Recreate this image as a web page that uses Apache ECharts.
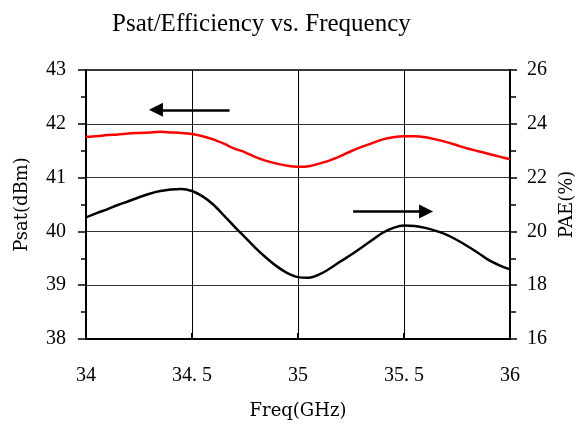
<!DOCTYPE html>
<html>
<head>
<meta charset="utf-8">
<script src="https://cdn.jsdelivr.net/npm/echarts@6/dist/echarts.min.js"></script>
<style>
  html, body { margin: 0; padding: 0; background: #fff; }
  #chart { width: 579px; height: 426px; }
</style>
</head>
<body>
<div id="chart"></div>
<script>
// frequency points (GHz)
const freq = [
  34.00, 34.05, 34.10, 34.15, 34.20, 34.25, 34.30, 34.35, 34.40, 34.45,
  34.50, 34.55, 34.60, 34.65, 34.70, 34.75, 34.80, 34.85, 34.90, 34.95,
  35.00, 35.05, 35.10, 35.15, 35.20, 35.25, 35.30, 35.35, 35.40, 35.45,
  35.50, 35.55, 35.60, 35.65, 35.70, 35.75, 35.80, 35.85, 35.90, 35.95, 36.00
]
// Psat (dBm), left axis
const psat = [
  41.76, 41.77, 41.79, 41.80, 41.82, 41.83, 41.84, 41.85, 41.84, 41.83,
  41.81, 41.77, 41.71, 41.63, 41.54, 41.47, 41.38, 41.31, 41.26, 41.22,
  41.20, 41.21, 41.26, 41.32, 41.40, 41.49, 41.57, 41.64, 41.71, 41.75,
  41.77, 41.77, 41.75, 41.71, 41.66, 41.60, 41.54, 41.49, 41.44, 41.39, 41.34
]
// PAE (%), right axis
const pae = [
  20.52, 20.68, 20.82, 20.98, 21.12, 21.27, 21.40, 21.50, 21.56, 21.58,
  21.50, 21.30, 21.00, 20.60, 20.18, 19.78, 19.38, 19.02, 18.70, 18.45,
  18.30, 18.28, 18.40, 18.62, 18.88, 19.13, 19.40, 19.68, 19.95, 20.13,
  20.22, 20.20, 20.13, 20.02, 19.88, 19.68, 19.45, 19.20, 18.93, 18.74, 18.59
]
// arrow annotations [x0, x1, y(on Psat axis)]
const arrowLeft = [34.677, 34.33, 42.26]
const arrowRight = [35.26, 35.604, 40.37]

const serif = 'Liberation Serif'
const nameFont = 'DejaVu Serif'

const chart = echarts.init(document.getElementById('chart'))
chart.setOption({
  animation: false,
  title: {
    text: 'Psat/Efficiency vs. Frequency',
    left: 107,
    top: 7,
    textStyle: { fontFamily: serif, fontSize: 25, fontWeight: 'normal', color: '#000' }
  },
  grid: {
    left: 86, right: 69, top: 70, bottom: 87,
    outerBoundsMode: 'none',
    containLabel: false,
    show: true, borderColor: '#000', borderWidth: 1.5
  },
  xAxis: {
    type: 'value',
    min: 34, max: 36, interval: 0.5,
    name: 'Freq(GHz)',
    nameLocation: 'middle',
    nameGap: 63,
    nameTextStyle: { fontFamily: nameFont, fontSize: 18, color: '#000' },
    axisLine: { lineStyle: { color: '#000', width: 2 } },
    axisTick: { inside: true, length: 6, lineStyle: { color: '#000', width: 2 } },
    axisLabel: {
      margin: 27,
      fontFamily: serif, fontSize: 20, color: '#000',
      formatter: v => String(v).replace('.', '. ')
    },
    splitLine: { show: true, lineStyle: { color: '#000', width: 1 } }
  },
  yAxis: [
    {
      type: 'value',
      min: 38, max: 43, interval: 1,
      name: 'Psat(dBm)',
      nameLocation: 'middle',
      nameRotate: 90,
      nameGap: 55,
      nameTextStyle: { fontFamily: nameFont, fontSize: 18, color: '#000' },
      axisLine: { show: true, lineStyle: { color: '#000', width: 2 } },
      axisTick: { show: true, length: 8, lineStyle: { color: '#000', width: 1.5 } },
      minorTick: { show: true, splitNumber: 2, length: 5, lineStyle: { color: '#000', width: 1.5 } },
      axisLabel: { margin: 20, fontFamily: serif, fontSize: 20, color: '#000' },
      splitLine: { show: true, lineStyle: { color: '#333', width: 1 } }
    },
    {
      type: 'value',
      min: 16, max: 26, interval: 2,
      name: 'PAE(%)',
      nameLocation: 'middle',
      nameRotate: 90,
      nameGap: 44,
      nameTextStyle: { fontFamily: nameFont, fontSize: 18, color: '#000' },
      axisLine: { show: true, lineStyle: { color: '#000', width: 2 } },
      axisTick: { show: true, length: 7, lineStyle: { color: '#000', width: 1.5 } },
      minorTick: { show: true, splitNumber: 2, length: 6, lineStyle: { color: '#000', width: 1.5 } },
      axisLabel: { margin: 17, fontFamily: serif, fontSize: 20, color: '#000' },
      splitLine: { show: false }
    }
  ],
  series: [
    {
      name: 'Psat',
      type: 'line',
      yAxisIndex: 0,
      data: freq.map((f, i) => [f, psat[i]]),
      smooth: 0.3,
      showSymbol: false,
      lineStyle: { color: '#ff0000', width: 2.5 },
      markLine: {
        silent: true,
        symbol: ['none', 'triangle'],
        symbolSize: 14,
        label: { show: false },
        lineStyle: { color: '#000', width: 2.5, type: 'solid' },
        data: [
          [{ coord: [arrowLeft[0], arrowLeft[2]] }, { coord: [arrowLeft[1], arrowLeft[2]] }],
          [{ coord: [arrowRight[0], arrowRight[2]] }, { coord: [arrowRight[1], arrowRight[2]] }]
        ]
      }
    },
    {
      name: 'PAE',
      type: 'line',
      yAxisIndex: 1,
      data: freq.map((f, i) => [f, pae[i]]),
      smooth: 0.3,
      showSymbol: false,
      lineStyle: { color: '#000', width: 2.5 }
    }
  ]
})
</script>
</body>
</html>
